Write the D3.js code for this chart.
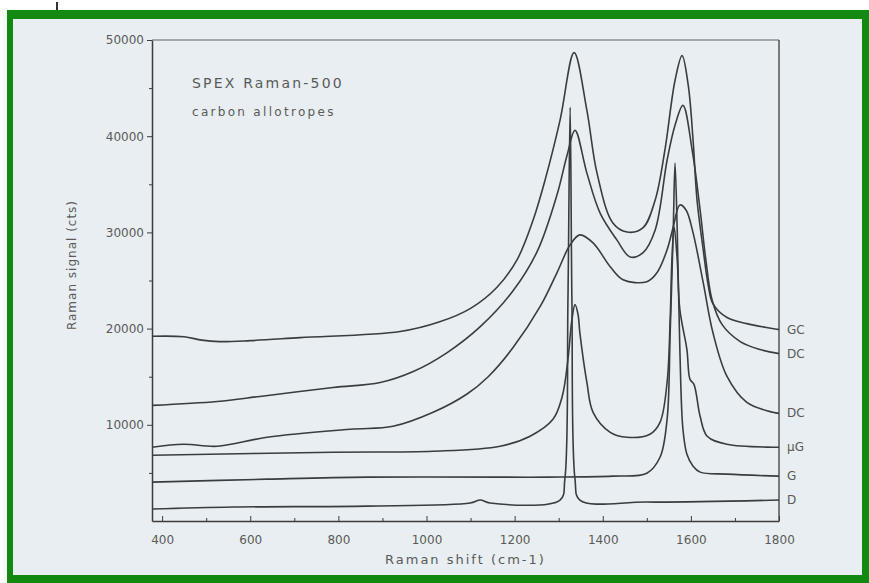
<!DOCTYPE html>
<html>
<head>
<meta charset="utf-8">
<script src="https://cdn.jsdelivr.net/npm/d3@7"></script>
<style>
  body { margin: 0; background: #ffffff; }
  svg { display: block; }
</style>
</head>
<body>
<div id="chart"></div>
<script>
// Raman spectra of carbon allotropes
// each series: [Raman shift (cm-1), signal (cts)]
const spectrumGC = [[377,19200],[450,19150],[490,18800],[530,18650],[600,18750],[713,19060],[940,19690],[1030,20700],[1100,22100],[1160,24300],[1206,27200],[1242,31290],[1269,35430],[1303,41650],[1335,48690],[1364,42680],[1387,36160],[1423,30980],[1455,30040],[1491,30460],[1519,33360],[1541,38540],[1564,45790],[1580,48380],[1594,45300],[1605,39580],[1614,33360],[1628,28200],[1639,24600],[1650,22600],[1682,21150],[1727,20520],[1800,19900]];
const spectrumDC1 = [[377,12020],[525,12430],[622,12950],[788,13880],[895,14400],[970,15540],[1047,17510],[1122,20200],[1196,23900],[1251,28000],[1296,33880],[1319,38020],[1337,40610],[1364,36160],[1394,32010],[1432,29220],[1462,27450],[1491,27870],[1519,30250],[1546,37500],[1564,41130],[1582,43200],[1603,38540],[1621,32320],[1634,27140],[1648,23000],[1671,20410],[1712,18650],[1757,17820],[1800,17400]];
const spectrumDC2 = [[377,7670],[448,7980],[525,7770],[638,8700],[827,9530],[924,9840],[1015,11300],[1092,13200],[1140,15000],[1196,18000],[1258,22300],[1296,25800],[1326,28710],[1348,29740],[1378,28910],[1417,26430],[1446,25080],[1500,24870],[1523,25800],[1546,28190],[1560,30570],[1575,32850],[1589,32330],[1605,29950],[1628,24770],[1650,19590],[1682,15030],[1727,12330],[1786,11300],[1800,11190]];
const spectrumMuG = [[377,6840],[788,7150],[1015,7250],[1167,7770],[1235,8810],[1287,10570],[1308,12950],[1321,16790],[1330,20930],[1337,22490],[1344,21450],[1348,19590],[1364,14400],[1378,11300],[1417,9220],[1455,8700],[1507,9020],[1530,10260],[1546,14400],[1553,20930],[1557,27150],[1562,30570],[1569,27150],[1575,21970],[1591,17820],[1598,14720],[1607,14200],[1621,10880],[1637,8810],[1682,7980],[1786,7670],[1800,7670]];
const spectrumG = [[377,4040],[638,4350],[865,4560],[1167,4560],[1274,4560],[1423,4660],[1500,4970],[1530,6630],[1546,10570],[1553,19590],[1560,30260],[1564,37200],[1569,30260],[1575,17820],[1582,9530],[1591,6940],[1605,5700],[1621,5080],[1682,4870],[1800,4660]];
const spectrumD = [[377,1240],[561,1450],[865,1550],[1099,1870],[1122,2180],[1144,1870],[1303,2180],[1314,4350],[1321,23010],[1326,43010],[1330,23010],[1337,4350],[1348,2180],[1500,1970],[1800,2180]];

const seriesNames = ["GC", "DC", "DC", "\u00b5G", "G", "D"];
const seriesData = [spectrumGC, spectrumDC1, spectrumDC2, spectrumMuG, spectrumG, spectrumD];

const xTicks = [400, 600, 800, 1000, 1200, 1400, 1600, 1800];
const yTicks = [10000, 20000, 30000, 40000, 50000];

const width = 869, height = 583;
const plot = { left: 152, right: 779, top: 40, bottom: 521 };

const svg = d3.select("#chart").append("svg")
  .attr("width", width)
  .attr("height", height);

// green frame around the picture
svg.append("rect").attr("x", 0).attr("y", 0).attr("width", width).attr("height", height).attr("fill", "#ffffff");
svg.append("rect").attr("x", 7).attr("y", 10).attr("width", width - 7).attr("height", height - 10).attr("fill", "#128a12");
svg.append("rect").attr("x", 13).attr("y", 19).attr("width", width - 13 - 7).attr("height", height - 19 - 8).attr("fill", "#e8eef1");
svg.append("line").attr("x1", 57).attr("x2", 57).attr("y1", 2).attr("y2", 10).attr("stroke", "#333").attr("stroke-width", 2);

const x = d3.scaleLinear().domain([377, 1800]).range([plot.left, plot.right]);
const y = d3.scaleLinear().domain([0, 50000]).range([plot.bottom, plot.top]);

const axisColor = "#3c3c3c";
const textColor = "#5a5a5a";
const font = "DejaVu Sans, sans-serif";

// plot box
svg.append("line").attr("x1", plot.left).attr("x2", plot.right).attr("y1", plot.top).attr("y2", plot.top)
  .attr("stroke", "#8a8f92").attr("stroke-width", 1.5);
svg.append("line").attr("x1", plot.right).attr("x2", plot.right).attr("y1", plot.top).attr("y2", plot.bottom)
  .attr("stroke", axisColor).attr("stroke-width", 1.3);

// bottom axis, ticks pointing inward
svg.append("g")
  .attr("transform", `translate(0,${plot.bottom})`)
  .call(d3.axisBottom(x).tickValues(xTicks).tickSizeInner(-5).tickSizeOuter(0).tickPadding(14).tickFormat(d3.format("d")));
svg.append("g")
  .attr("transform", `translate(0,${plot.bottom})`)
  .call(d3.axisBottom(x).tickValues(d3.range(500, 1800, 200)).tickSizeInner(-3).tickSizeOuter(0).tickFormat(""))
  .call(g => g.select(".domain").remove());

// left axis
svg.append("g")
  .attr("transform", `translate(${plot.left},0)`)
  .call(d3.axisLeft(y).tickValues(yTicks).tickSizeInner(5).tickSizeOuter(0).tickPadding(3).tickFormat(d3.format("d")));
svg.append("g")
  .attr("transform", `translate(${plot.left},0)`)
  .call(d3.axisLeft(y).tickValues(d3.range(5000, 50000, 10000)).tickSizeInner(3).tickSizeOuter(0).tickFormat(""))
  .call(g => g.select(".domain").remove());

svg.selectAll(".domain").attr("stroke", axisColor).attr("stroke-width", 1.5);
svg.selectAll(".tick line").attr("stroke", axisColor);
svg.selectAll(".tick text").attr("fill", textColor).attr("font-family", font).attr("font-size", 12);

// spectra
const line = d3.line()
  .x(d => x(d[0]))
  .y(d => y(d[1]))
  .curve(d3.curveCatmullRom.alpha(0.5));

svg.append("g").selectAll("path")
  .data(seriesData)
  .enter().append("path")
  .attr("d", line)
  .attr("fill", "none")
  .attr("stroke", "#3a3d3f")
  .attr("stroke-width", 1.6);

// series labels on the right
svg.append("g").selectAll("text")
  .data(seriesData)
  .enter().append("text")
  .attr("x", plot.right + 8)
  .attr("y", d => y(d[d.length - 1][1]) + 4)
  .attr("fill", textColor)
  .attr("font-family", font)
  .attr("font-size", 12)
  .text((d, i) => seriesNames[i]);

// titles
svg.append("text").attr("x", 192).attr("y", 88)
  .attr("fill", textColor).attr("font-family", font).attr("font-size", 14)
  .attr("letter-spacing", 2.2)
  .text("SPEX Raman-500");
svg.append("text").attr("x", 192).attr("y", 116)
  .attr("fill", textColor).attr("font-family", font).attr("font-size", 12)
  .attr("letter-spacing", 2.3)
  .text("carbon allotropes");

svg.append("text").attr("x", 385).attr("y", 564)
  .attr("fill", textColor).attr("font-family", font).attr("font-size", 13)
  .attr("letter-spacing", 2)
  .text("Raman shift (cm-1)");

svg.append("text")
  .attr("transform", "translate(76,265) rotate(-90)")
  .attr("text-anchor", "middle")
  .attr("fill", textColor).attr("font-family", font).attr("font-size", 12)
  .attr("letter-spacing", 1)
  .text("Raman signal (cts)");
</script>
</body>
</html>
